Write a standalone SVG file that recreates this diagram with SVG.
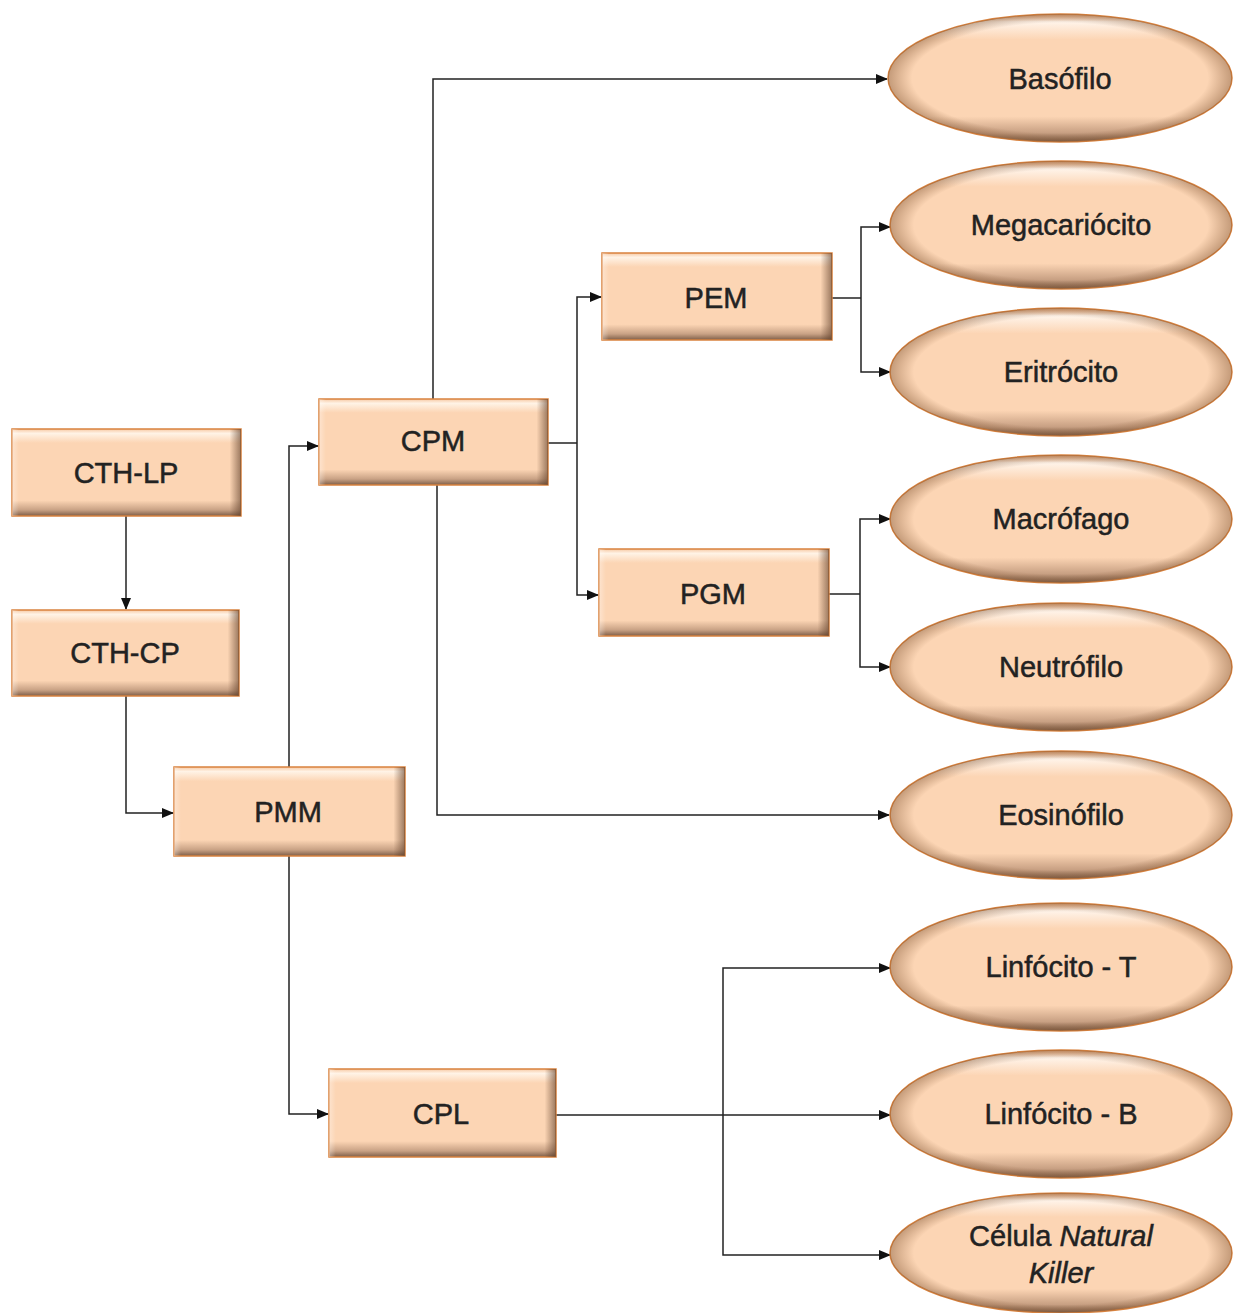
<svg xmlns="http://www.w3.org/2000/svg" width="1239" height="1313" viewBox="0 0 1239 1313">
<style>
.box{fill:url(#bv);stroke:#D9833F;stroke-width:1.5}
.ell{fill:url(#ev);stroke:#D9833F;stroke-width:1.5}
.sh{fill:url(#bh)}
.eh{fill:url(#eg)}
.t{font-family:"Liberation Sans",Arial,sans-serif;font-size:29px;fill:#222;stroke:#222;stroke-width:0.5;text-anchor:middle}
.c{fill:none;stroke:#222;stroke-width:1.5}
</style>
<defs>
<linearGradient id="bv" x1="0" y1="0" x2="0" y2="1">
<stop offset="0" stop-color="#F7C9A4"/>
<stop offset="0.05" stop-color="#FFF3E6"/>
<stop offset="0.16" stop-color="#FCD5B4"/>
<stop offset="0.82" stop-color="#FCD5B4"/>
<stop offset="0.93" stop-color="#C9A285"/>
<stop offset="1" stop-color="#7E5E48"/>
</linearGradient>
<linearGradient id="bh" x1="0" y1="0" x2="1" y2="0">
<stop offset="0" stop-color="#FFFFFF" stop-opacity="0.35"/>
<stop offset="0.03" stop-color="#FFFFFF" stop-opacity="0"/>
<stop offset="0.95" stop-color="#5A3A25" stop-opacity="0"/>
<stop offset="1" stop-color="#5A3A25" stop-opacity="0.6"/>
</linearGradient>
<linearGradient id="ev" x1="0" y1="0" x2="0" y2="1">
<stop offset="0" stop-color="#E8A878"/>
<stop offset="0.06" stop-color="#FFF4EA"/>
<stop offset="0.2" stop-color="#FCD5B4"/>
<stop offset="0.8" stop-color="#FCD5B4"/>
<stop offset="0.93" stop-color="#C79F82"/>
<stop offset="1" stop-color="#7E5E48"/>
</linearGradient>
<radialGradient id="eg" cx="0.5" cy="0.5" r="0.5">
<stop offset="0.86" stop-color="#7E5230" stop-opacity="0"/>
<stop offset="1" stop-color="#7E5230" stop-opacity="0.45"/>
</radialGradient>
<marker id="a" markerWidth="12" markerHeight="10" refX="11" refY="5" orient="auto" markerUnits="userSpaceOnUse">
<path d="M0,0 L12,5 L0,10 Z" fill="#111"/>
</marker>
</defs>

<g id="connectors">
<path class="c" d="M126,516 V609" marker-end="url(#a)"/>
<path class="c" d="M126,696 V813 H173" marker-end="url(#a)"/>
<path class="c" d="M289,767 V446 H318" marker-end="url(#a)"/>
<path class="c" d="M289,856 V1114 H328" marker-end="url(#a)"/>
<path class="c" d="M433,399 V79 H887" marker-end="url(#a)"/>
<path class="c" d="M437,485 V815 H889" marker-end="url(#a)"/>
<path class="c" d="M548,443 H577"/>
<path class="c" d="M577,443 V297 H601" marker-end="url(#a)"/>
<path class="c" d="M577,443 V595 H598" marker-end="url(#a)"/>
<path class="c" d="M832,298 H861"/>
<path class="c" d="M861,298 V227 H890" marker-end="url(#a)"/>
<path class="c" d="M861,298 V372 H890" marker-end="url(#a)"/>
<path class="c" d="M829,594 H860"/>
<path class="c" d="M860,594 V519 H890" marker-end="url(#a)"/>
<path class="c" d="M860,594 V667 H890" marker-end="url(#a)"/>
<path class="c" d="M556,1115 H723"/>
<path class="c" d="M723,1115 V968 H890" marker-end="url(#a)"/>
<path class="c" d="M723,1115 H890" marker-end="url(#a)"/>
<path class="c" d="M723,1115 V1255 H890" marker-end="url(#a)"/>
</g>

<g id="cth-lp"><rect class="box" x="12" y="429" width="229" height="87"/><rect class="sh" x="12" y="429" width="229" height="87"/><text class="t" x="126" y="483">CTH-LP</text></g>
<g id="cth-cp"><rect class="box" x="12" y="610" width="227" height="86"/><rect class="sh" x="12" y="610" width="227" height="86"/><text class="t" x="125" y="663">CTH-CP</text></g>
<g id="pmm"><rect class="box" x="174" y="767" width="231" height="89"/><rect class="sh" x="174" y="767" width="231" height="89"/><text class="t" x="288" y="822">PMM</text></g>
<g id="cpm"><rect class="box" x="319" y="399" width="229" height="86"/><rect class="sh" x="319" y="399" width="229" height="86"/><text class="t" x="433" y="451">CPM</text></g>
<g id="pem"><rect class="box" x="602" y="253" width="230" height="87"/><rect class="sh" x="602" y="253" width="230" height="87"/><text class="t" x="716" y="308">PEM</text></g>
<g id="pgm"><rect class="box" x="599" y="549" width="230" height="87"/><rect class="sh" x="599" y="549" width="230" height="87"/><text class="t" x="713" y="604">PGM</text></g>
<g id="cpl"><rect class="box" x="329" y="1069" width="227" height="88"/><rect class="sh" x="329" y="1069" width="227" height="88"/><text class="t" x="441" y="1124">CPL</text></g>

<g id="basofilo"><ellipse class="ell" cx="1060" cy="78" rx="172" ry="64"/><ellipse class="eh" cx="1060" cy="78" rx="172" ry="64"/><text class="t" x="1060" y="89">Basófilo</text></g>
<g id="megacariocito"><ellipse class="ell" cx="1061" cy="225" rx="171" ry="64"/><ellipse class="eh" cx="1061" cy="225" rx="171" ry="64"/><text class="t" x="1061" y="235">Megacariócito</text></g>
<g id="eritrocito"><ellipse class="ell" cx="1061" cy="372" rx="171" ry="64"/><ellipse class="eh" cx="1061" cy="372" rx="171" ry="64"/><text class="t" x="1061" y="382">Eritrócito</text></g>
<g id="macrofago"><ellipse class="ell" cx="1061" cy="519" rx="171" ry="64"/><ellipse class="eh" cx="1061" cy="519" rx="171" ry="64"/><text class="t" x="1061" y="529">Macrófago</text></g>
<g id="neutrofilo"><ellipse class="ell" cx="1061" cy="667" rx="171" ry="64"/><ellipse class="eh" cx="1061" cy="667" rx="171" ry="64"/><text class="t" x="1061" y="677">Neutrófilo</text></g>
<g id="eosinofilo"><ellipse class="ell" cx="1061" cy="815" rx="171" ry="64"/><ellipse class="eh" cx="1061" cy="815" rx="171" ry="64"/><text class="t" x="1061" y="825">Eosinófilo</text></g>
<g id="linfocito-t"><ellipse class="ell" cx="1061" cy="967" rx="171" ry="64"/><ellipse class="eh" cx="1061" cy="967" rx="171" ry="64"/><text class="t" x="1061" y="977">Linfócito - T</text></g>
<g id="linfocito-b"><ellipse class="ell" cx="1061" cy="1114" rx="171" ry="64"/><ellipse class="eh" cx="1061" cy="1114" rx="171" ry="64"/><text class="t" x="1061" y="1124">Linfócito - B</text></g>
<g id="natural-killer"><ellipse class="ell" cx="1061" cy="1253" rx="171" ry="60"/><ellipse class="eh" cx="1061" cy="1253" rx="171" ry="60"/><text class="t" x="1061" y="1246">Célula <tspan font-style="italic">Natural</tspan></text><text class="t" x="1061" y="1283" font-style="italic">Killer</text></g>
</svg>
